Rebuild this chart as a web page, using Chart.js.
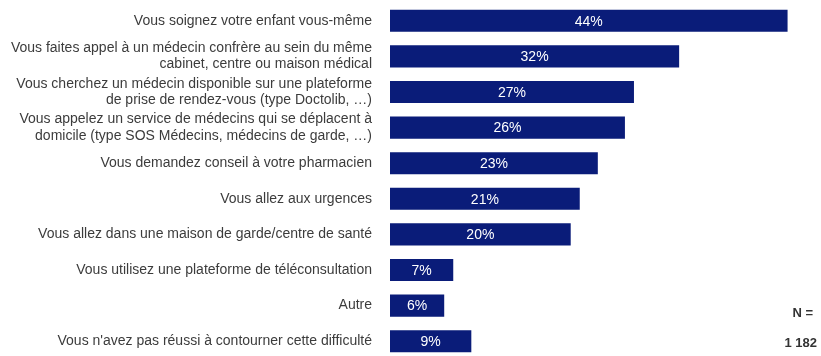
<!DOCTYPE html>
<html lang="fr">
<head>
<meta charset="utf-8">
<script src="https://cdn.jsdelivr.net/npm/chart.js@4/dist/chart.umd.min.js"></script>
<style>
  html, body { margin: 0; padding: 0; background: #fff; overflow: hidden; }
  #wrap { position: relative; width: 821px; height: 359px; }
</style>
</head>
<body>
<div id="wrap"><canvas id="solutionsChart"></canvas></div>
<script>
// Réponses (libellés sur une ou deux lignes)
const categories = [
    ['Vous soignez votre enfant vous-même'],
    ['Vous faites appel à un médecin confrère au sein du même', 'cabinet, centre ou maison médical'],
    ['Vous cherchez un médecin disponible sur une plateforme', 'de prise de rendez-vous (type Doctolib, …)'],
    ['Vous appelez un service de médecins qui se déplacent à', 'domicile (type SOS Médecins, médecins de garde, …)'],
    ['Vous demandez conseil à votre pharmacien'],
    ['Vous allez aux urgences'],
    ['Vous allez dans une maison de garde/centre de santé'],
    ['Vous utilisez une plateforme de téléconsultation'],
    ['Autre'],
    ['Vous n\'avez pas réussi à contourner cette difficulté']
];

// Pourcentages de répondants
const percentages = [44, 32, 27, 26, 23, 21, 20, 7, 6, 9];

// Effectif
const sampleLabel = 'N =';
const sampleSize = '1 182';

const BAR_COLOR = '#0a1c79';
const TEXT_COLOR = '#3c3c3c';
const FONT = '"Liberation Sans", Arial, sans-serif';

// Pourcentage écrit au centre de chaque barre
const valueLabels = {
    id: 'valueLabels',
    afterDatasetsDraw(chart) {
        const { ctx } = chart;
        const meta = chart.getDatasetMeta(0);
        ctx.save();
        ctx.fillStyle = '#ffffff';
        ctx.font = '14px ' + FONT;
        ctx.textAlign = 'center';
        ctx.textBaseline = 'middle';
        meta.data.forEach((bar, i) => {
            const x = (bar.base + bar.x) / 2;
            ctx.fillText(percentages[i] + '%', x, bar.y + 1);
        });
        ctx.restore();
    }
};

// Effectif en bas à droite
const sampleNote = {
    id: 'sampleNote',
    afterDraw(chart) {
        const { ctx } = chart;
        ctx.save();
        ctx.fillStyle = '#333333';
        ctx.font = 'bold 13px ' + FONT;
        ctx.textAlign = 'right';
        ctx.textBaseline = 'middle';
        ctx.fillText(sampleLabel, 813, 313);
        ctx.fillText(sampleSize, 817, 343);
        ctx.restore();
    }
};

new Chart(document.getElementById('solutionsChart').getContext('2d'), {
    type: 'bar',
    data: {
        labels: categories,
        datasets: [{
            data: percentages,
            backgroundColor: BAR_COLOR,
            borderWidth: 0,
            barPercentage: 0.62,
            categoryPercentage: 1
        }]
    },
    options: {
        indexAxis: 'y',
        responsive: true,
        maintainAspectRatio: false,
        animation: false,
        layout: { padding: { top: 3, right: 0, bottom: 0, left: 0 } },
        plugins: {
            legend: { display: false },
            tooltip: { enabled: false }
        },
        scales: {
            x: {
                display: false,
                min: 0,
                max: 47.7
            },
            y: {
                grid: { display: false, drawTicks: false },
                border: { display: false },
                afterFit: (scale) => {
                    scale.width = 390;
                    // pas de marge verticale ajoutée par les libellés
                    scale.paddingTop = 0;
                    scale.paddingBottom = 0;
                },
                ticks: {
                    padding: 18,
                    color: TEXT_COLOR,
                    font: { family: FONT, size: 14, lineHeight: 1.15 }
                }
            }
        }
    },
    plugins: [valueLabels, sampleNote]
});
</script>
</body>
</html>
